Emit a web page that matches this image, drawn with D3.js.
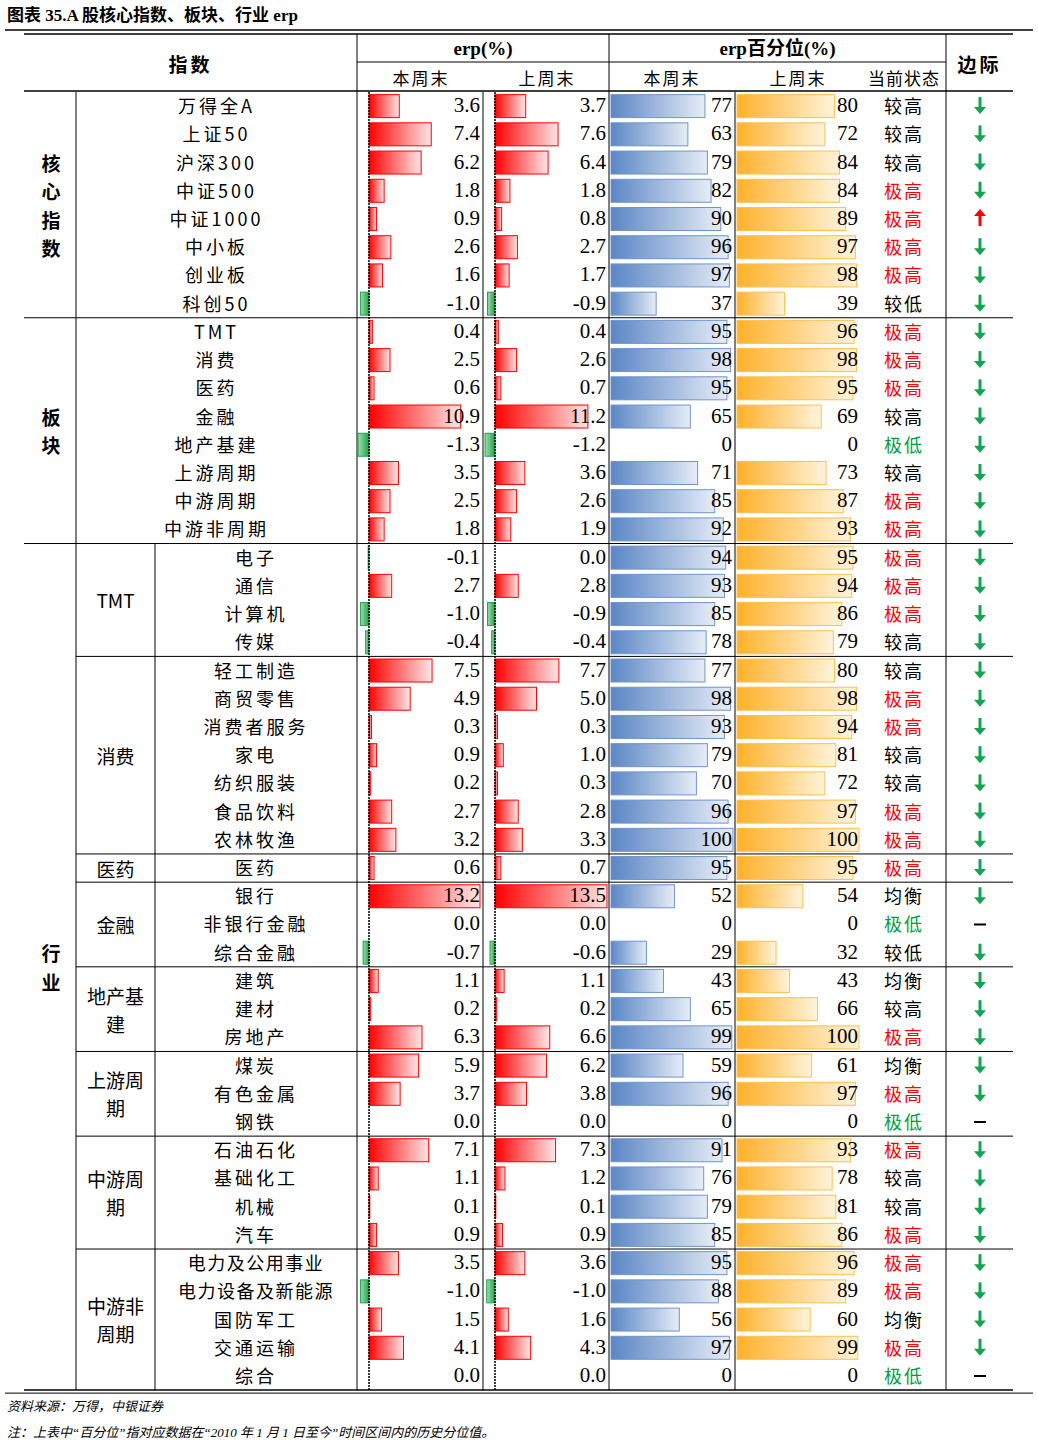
<!DOCTYPE html>
<html><head><meta charset="utf-8">
<script src="https://cdn.jsdelivr.net/npm/d3@7.9.0/dist/d3.min.js"></script>
<style>
body{margin:0;background:#fff}
text{font-family:"Liberation Serif","Noto Sans CJK SC",serif}
</style></head><body>
<svg id="c" width="1038" height="1445"></svg>
<script>
// ---- data ----
const names = ["万得全A","上证50","沪深300","中证500","中证1000","中小板","创业板","科创50",
  "TMT","消费","医药","金融","地产基建","上游周期","中游周期","中游非周期",
  "电子","通信","计算机","传媒",
  "轻工制造","商贸零售","消费者服务","家电","纺织服装","食品饮料","农林牧渔",
  "医药",
  "银行","非银行金融","综合金融",
  "建筑","建材","房地产",
  "煤炭","有色金属","钢铁",
  "石油石化","基础化工","机械","汽车",
  "电力及公用事业","电力设备及新能源","国防军工","交通运输","综合"];
const erpNow = [3.6,7.4,6.2,1.8,0.9,2.6,1.6,-1.0, 0.4,2.5,0.6,10.9,-1.3,3.5,2.5,1.8,
  -0.1,2.7,-1.0,-0.4, 7.5,4.9,0.3,0.9,0.2,2.7,3.2, 0.6, 13.2,0.0,-0.7, 1.1,0.2,6.3,
  5.9,3.7,0.0, 7.1,1.1,0.1,0.9, 3.5,-1.0,1.5,4.1,0.0];
const erpPrev = [3.7,7.6,6.4,1.8,0.8,2.7,1.7,-0.9, 0.4,2.6,0.7,11.2,-1.2,3.6,2.6,1.9,
  0.0,2.8,-0.9,-0.4, 7.7,5.0,0.3,1.0,0.3,2.8,3.3, 0.7, 13.5,0.0,-0.6, 1.1,0.2,6.6,
  6.2,3.8,0.0, 7.3,1.2,0.1,0.9, 3.6,-1.0,1.6,4.3,0.0];
const pctNow = [77,63,79,82,90,96,97,37, 95,98,95,65,0,71,85,92, 94,93,85,78,
  77,98,93,79,70,96,100, 95, 52,0,29, 43,65,99, 59,96,0, 91,76,79,85, 95,88,56,97,0];
const pctPrev = [80,72,84,84,89,97,98,39, 96,98,95,69,0,73,87,93, 95,94,86,79,
  80,98,94,81,72,97,100, 95, 54,0,32, 43,66,100, 61,97,0, 93,78,81,86, 96,89,60,99,0];
const status = ["较高","较高","较高","极高","极高","极高","极高","较低",
  "极高","极高","极高","较高","极低","较高","极高","极高",
  "极高","极高","极高","较高", "较高","极高","极高","较高","较高","极高","极高",
  "极高", "均衡","极低","较低", "均衡","较高","极高", "均衡","极高","极低",
  "极高","较高","较高","极高", "极高","极高","均衡","极高","极低"];
// d = down, u = up, n = flat
const margin = ["d","d","d","d","u","d","d","d", "d","d","d","d","d","d","d","d",
  "d","d","d","d", "d","d","d","d","d","d","d", "d", "d","n","d", "d","d","d",
  "d","d","n", "d","d","d","d", "d","d","d","d","n"];
// groups: [label, first row, row count]
const groups = [["核\n心\n指\n数",0,8],["板\n块",8,8],["行\n业",16,30]];
const subGroups = [["TMT",16,4],["消费",20,7],["医药",27,1],["金融",28,3],
  ["地产基\n建",31,3],["上游周\n期",34,3],["中游周\n期",37,4],["中游非\n周期",41,5]];

// ---- layout ----
const svg = d3.select("#c");
const top0 = 92, rowH = 28.22, n = names.length;
const y = d3.scaleLinear().domain([0, n]).range([top0, top0 + rowH * n]);
const bot = y(n);
const X = {l:24, g:76, s:155, e1:357, e2:483, p1:609, p2:735, st:860, m:946, r:1013};
const xE1 = d3.scaleLinear().domain([0, 13.2]).range([369, 480]);
const xE2 = d3.scaleLinear().domain([0, 13.5]).range([495, 607]);
const xP1 = d3.scaleLinear().domain([0, 100]).range([611, 733]);
const xP2 = d3.scaleLinear().domain([0, 100]).range([737, 859]);

// gradients
const defs = svg.append("defs");
function grad(id, c1, c2) {
  const g = defs.append("linearGradient").attr("id", id);
  g.append("stop").attr("offset", "0%").attr("stop-color", c1);
  g.append("stop").attr("offset", "100%").attr("stop-color", c2);
}
grad("gr", "#ff0000", "#ffe6e6");
grad("gg", "#9fdcb0", "#19a64a");
grad("gb", "#5b86c5", "#e6edf7");
grad("go", "#ffb12a", "#fff4dc");

const CJK = "'Noto Sans CJK SC',sans-serif";

// title
svg.append("text").attr("x", 7).attr("y", 21).attr("font-size", 17).attr("font-weight", "bold")
  .style("font-family", "'Liberation Serif','Noto Sans CJK SC'").text("图表 35.A 股核心指数、板块、行业 erp");
svg.append("line").attr("x1", 5).attr("x2", 1033).attr("y1", 30).attr("y2", 30).attr("stroke", "#000").attr("stroke-width", 1.5);

function line(x1, y1, x2, y2, w) {
  svg.append("line").attr("x1", x1).attr("y1", y1).attr("x2", x2).attr("y2", y2)
    .attr("stroke", "#000").attr("stroke-width", w || 1);
}
// header
line(X.l, 34, X.r, 34, 1.5);
line(X.e1, 62, X.m, 62);
line(X.l, 91, X.r, 91, 1.5);
[X.e1, X.p1, X.m].forEach(x => line(x, 34, x, bot));
[X.e2, X.p2].forEach(x => line(x, top0, x, bot));
line(X.g, top0, X.g, bot);
line(X.s, y(16), X.s, bot);
line(X.l, bot, X.r, bot, 1.5);
line(5, bot + 3, 1033, bot + 3, 1);

function txt(x, yy, s, o) {
  o = o || {};
  return svg.append("text").attr("x", x).attr("y", yy).attr("text-anchor", o.a || "middle")
    .attr("font-size", o.fs || 20).attr("font-weight", o.b ? "bold" : null)
    .attr("fill", o.c || "#000").attr("dominant-baseline", "central")
    .attr("letter-spacing", o.ls || null)
    .style("font-family", o.f || null).text(s);
}
txt((X.l + X.e1) / 2, 63, "指数", {fs: 19, b: true, f: CJK, ls: 3});
txt((X.e1 + X.p1) / 2, 48, "erp(%)", {fs: 19, b: true});
txt((X.p1 + X.m) / 2, 48, "erp百分位(%)", {fs: 19, b: true});
txt((X.m + X.r) / 2, 63, "边际", {fs: 19, b: true, f: CJK, ls: 3});
txt(421, 77, "本周末", {fs: 17, f: CJK, ls: 2});
txt(547, 77, "上周末", {fs: 17, f: CJK, ls: 2});
txt(672, 77, "本周末", {fs: 17, f: CJK, ls: 2});
txt(798, 77, "上周末", {fs: 17, f: CJK, ls: 2});
txt(904, 77, "当前状态", {fs: 17, f: CJK, ls: 1});

// group separators
line(X.l, y(8), X.r, y(8));
line(X.l, y(16), X.r, y(16));
subGroups.slice(1).forEach(g => line(X.g, y(g[1]), X.r, y(g[1])));

// group labels
function multi(x, cy, s, fs, b, lh) {
  const parts = s.split("\n");
  parts.forEach((p, i) => txt(x, cy + (i - (parts.length - 1) / 2) * lh, p, {fs: fs, b: b, f: CJK}));
}
groups.forEach(g => multi((X.l + X.g) / 2 + 1, y(g[1] + g[2] / 2), g[0], 19, true, 28.5));
subGroups.forEach(g => multi((X.g + X.s) / 2, y(g[1] + g[2] / 2), g[0], 19, false, 28));

// rows
const idx = d3.range(n);
const bh = 23;
function bars(data, sc, fillPos, strokePos, cls) {
  svg.selectAll("rect." + cls).data(idx).join("rect").attr("class", cls)
    .attr("x", i => Math.min(sc(0), sc(data[i])))
    .attr("y", i => y(i + 0.5) - bh / 2)
    .attr("width", i => Math.abs(sc(data[i]) - sc(0)))
    .attr("height", bh)
    .attr("fill", i => data[i] < 0 ? "url(#gg)" : fillPos)
    .attr("stroke", i => data[i] < 0 ? "#19a64a" : strokePos)
    .attr("stroke-width", 1)
    .style("display", i => data[i] === 0 ? "none" : null);
}
bars(erpNow, xE1, "url(#gr)", "#ff0000", "e1");
bars(erpPrev, xE2, "url(#gr)", "#ff0000", "e2");
bars(pctNow, xP1, "url(#gb)", "#6e95cf", "p1");
bars(pctPrev, xP2, "url(#go)", "#ffc04d", "p2");
// zero axes
[xE1(0), xE2(0)].forEach(x => svg.append("line").attr("x1", x).attr("x2", x)
  .attr("y1", top0).attr("y2", bot).attr("stroke", "#000").attr("stroke-width", 1.5)
  .attr("stroke-dasharray", "2,1"));

const stColor = s => s === "极高" ? "#ff0000" : s === "极低" ? "#00a040" : "#000";
idx.forEach(i => {
  const cy = y(i + 0.5) - 1;
  const nx = i < 16 ? (X.g + X.e1) / 2 : (X.s + X.e1) / 2;
  txt(nx, cy, names[i], {fs: 18, f: CJK, ls: names[i].length > 6 ? 1.5 : 3});
  txt(480, cy, erpNow[i].toFixed(1), {a: "end", fs: 21});
  txt(606, cy, erpPrev[i].toFixed(1), {a: "end", fs: 21});
  txt(732, cy, pctNow[i], {a: "end", fs: 21});
  txt(858, cy, pctPrev[i], {a: "end", fs: 21});
  txt(904, cy, status[i], {fs: 18, c: stColor(status[i]), f: CJK, ls: 2});
  const mx = 980;
  if (margin[i] === "n") {
    line(mx - 6, cy + 1, mx + 6, cy + 1, 2);
  } else {
    const up = margin[i] === "u", col = up ? "#ff0000" : "#12a550";
    const t = up ? -1 : 1;
    svg.append("line").attr("x1", mx).attr("x2", mx).attr("y1", cy - 8 * t).attr("y2", cy + 3 * t)
      .attr("stroke", col).attr("stroke-width", 3);
    svg.append("path").attr("fill", col)
      .attr("d", `M${mx - 6},${cy + 2 * t} L${mx + 6},${cy + 2 * t} L${mx},${cy + 9 * t} Z`);
  }
});

// notes
svg.append("text").attr("x", 7).attr("y", 1411).attr("font-size", 13).attr("font-style", "italic")
  .style("font-family", "'Liberation Serif','Noto Sans CJK SC'").text("资料来源：万得，中银证券");
svg.append("text").attr("x", 7).attr("y", 1437).attr("font-size", 13).attr("font-style", "italic")
  .style("font-family", "'Liberation Serif','Noto Sans CJK SC'").text("注：上表中“百分位”指对应数据在“2010 年 1 月 1 日至今”时间区间内的历史分位值。");
</script></body></html>
